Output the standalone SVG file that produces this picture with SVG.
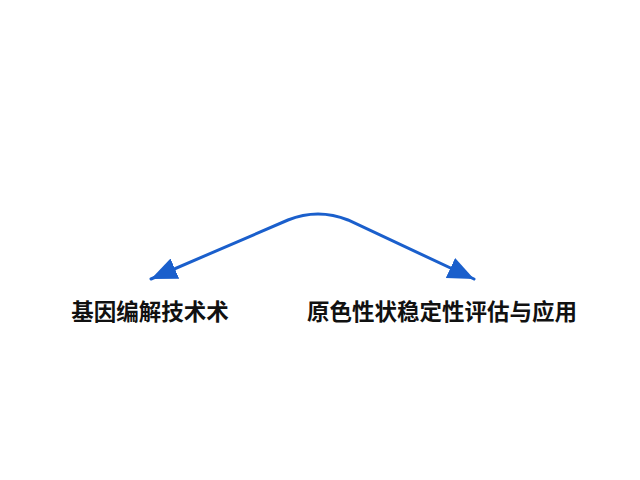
<svg xmlns="http://www.w3.org/2000/svg" width="640" height="480" viewBox="0 0 640 480">
<defs>
<style>
.lbl{font-family:"Noto Sans CJK SC","Noto Sans",sans-serif;font-weight:bold;font-size:22.5px;fill:#111;text-anchor:middle}
.edge{fill:none;stroke:#1a5fcc;stroke-width:3;stroke-linecap:round}
</style>
<marker id="ah" markerUnits="userSpaceOnUse" markerWidth="28" markerHeight="24" refX="26" refY="11" orient="auto-start-reverse" viewBox="0 0 28 24">
<path d="M0,0 L26,11 L0,22 z" fill="#1a5fcc"/>
</marker>
</defs>
<rect width="640" height="480" fill="#fff"/>
<g id="connectors">
<path class="edge" d="M151,279 L288,220 Q318,208 348,220 L474,279" marker-start="url(#ah)" marker-end="url(#ah)"/>
</g>
<g id="node-left">
<text class="lbl" x="150" y="320">基因编解技术术</text>
</g>
<g id="node-right">
<text class="lbl" x="442" y="320">原色性状稳定性评估与应用</text>
</g>
</svg>
